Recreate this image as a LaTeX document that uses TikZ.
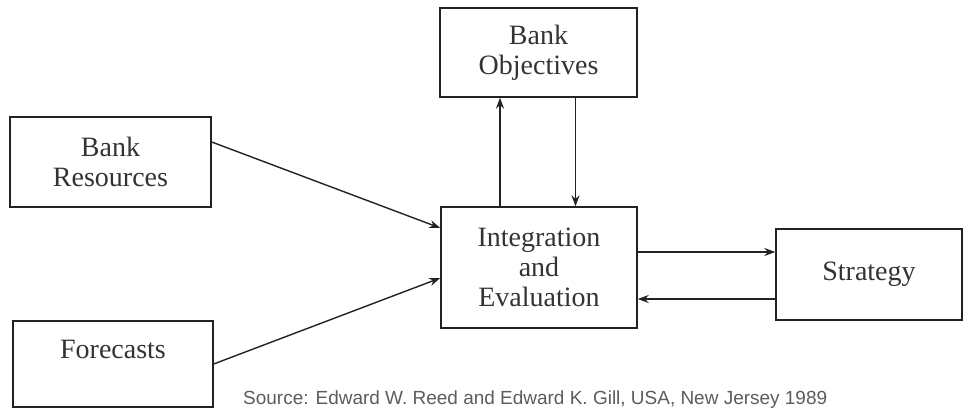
\documentclass[tikz,border=0pt]{standalone}
\usepackage{fontspec}
\setmainfont{Liberation Serif}
\newfontfamily\capfont{Liberation Sans}
\usetikzlibrary{arrows.meta}
\definecolor{ink}{HTML}{222222}
\definecolor{txt}{HTML}{333333}
\tikzset{
  blockbox/.style={draw=ink, line width=1.4pt, align=center, inner sep=0pt,
    text=txt, font=\fontsize{28}{30}\selectfont},
  conn/.style={draw=ink, line width=1.4pt, -{Stealth[length=11pt,width=8pt]}}
}
\begin{document}
\begin{tikzpicture}[x=1pt,y=-1pt]
\useasboundingbox (0,0) rectangle (966,409);
\node[blockbox, minimum width=197pt, minimum height=89pt] (BO) at (538.5,52.5) {Bank\\Objectives};
\node[blockbox, minimum width=201pt, minimum height=90pt] (BR) at (110.5,162) {Bank\\Resources};
\node[blockbox, minimum width=200pt, minimum height=86pt] (FC) at (113,364) {Forecasts\\\mbox{}};
\node[blockbox, minimum width=196pt, minimum height=121pt] (INT) at (539,267.5) {Integration\\and\\Evaluation};
\node[blockbox, minimum width=186pt, minimum height=91pt] (ST) at (869,274.5) {Strategy};
\draw[conn] ([yshift=20pt]BR.east) -- ([yshift=39.5pt]INT.west);
\draw[conn] (FC.east) -- ([yshift=-10.5pt]INT.west);
\draw[conn] ([xshift=-39pt]INT.north) -- ([xshift=-39pt]INT.north |- BO.south);
\draw[conn, line width=1pt] ([xshift=37pt]BO.south) -- ([xshift=37pt]BO.south |- INT.north);
\draw[conn] ([yshift=15.5pt]INT.east) -- ([yshift=15.5pt]INT.east -| ST.west);
\draw[conn] ([yshift=-31.5pt]INT.east -| ST.west) -- ([yshift=-31.5pt]INT.east);
\node[anchor=base west, inner sep=0pt, text=txt!80, font=\capfont\fontsize{17}{20}\selectfont] (SRC) at (243,404)
  {\resizebox{584pt}{!}{Source: Edward W. Reed and Edward K. Gill, USA, New Jersey 1989}};
\end{tikzpicture}
\end{document}
